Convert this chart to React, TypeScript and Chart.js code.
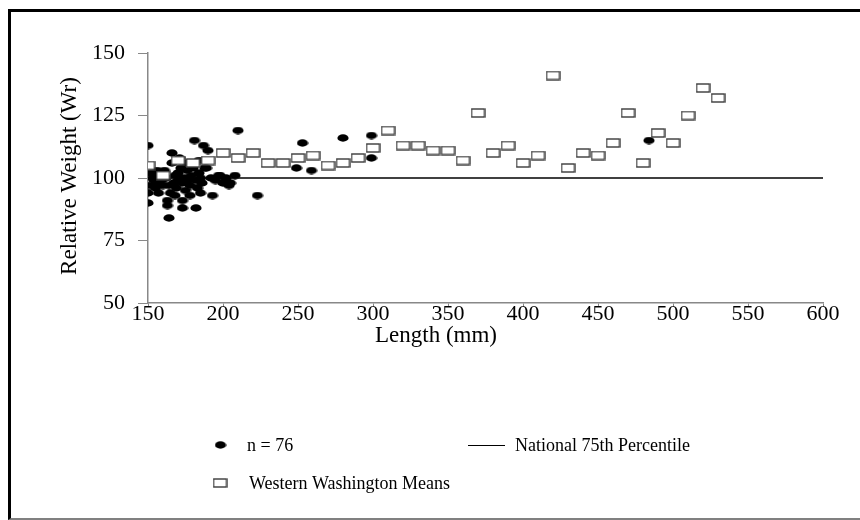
import React, { useEffect, useRef } from "react";
import { Chart, registerables } from "chart.js";
Chart.register(...registerables);

// Individual fish (n = 76): length (mm) and relative weight (Wr)
const sampleLength = [
  150, 150, 150, 151, 152, 153, 155, 156, 157, 158, 159, 160, 161, 162, 163, 163, 164, 165, 166, 166,
  167, 168, 169, 170, 171, 172, 173, 173, 173, 174, 175, 176, 177, 178, 179, 180, 181, 182, 182, 183,
  184, 185, 185, 186, 187, 188, 190, 192, 193, 195, 197, 198, 200, 202, 204, 205, 208, 210, 223, 249,
  253, 259, 280, 299, 299, 484, 154, 156, 160, 164, 168, 170, 176, 178, 184, 189,
];
const sampleWr = [
  113, 94, 90, 97, 102, 100, 96, 98, 94, 101, 99, 97, 103, 100, 91, 89, 84, 94, 106, 110,
  98, 101, 96, 102, 108, 104, 91, 88, 98, 100, 95, 103, 99, 97, 101, 104, 115, 88, 99, 96,
  102, 94, 100, 98, 113, 104, 111, 100, 93, 99, 101, 101, 98, 100, 97, 98, 101, 119, 93, 104,
  114, 103, 116, 117, 108, 115, 99, 103, 100, 97, 93, 99, 106, 93, 107, 104,
];

// Western Washington means
const meanLength = [
  150, 160, 170, 180, 190, 200, 210, 220, 230, 240, 250, 260, 270, 280, 290, 300, 310, 320, 330, 340,
  350, 360, 370, 380, 390, 400, 410, 420, 430, 440, 450, 460, 470, 480, 490, 500, 510, 520, 530,
];
const meanWr = [
  105, 101, 107, 106, 107, 110, 108, 110, 106, 106, 108, 109, 105, 106, 108, 112, 119, 113, 113, 111,
  111, 107, 126, 110, 113, 106, 109, 141, 104, 110, 109, 114, 126, 106, 118, 114, 125, 136, 132,
];

// National 75th percentile standard
const standardLength = [150, 600];
const standardWr = [100, 100];

const xTickMin = 150;
const xTickMax = 600;
const xTickStep = 50;
const yTickMin = 50;
const yTickMax = 150;
const yTickStep = 25;

const labelSample = "n = 76";
const labelStandard = "National 75th Percentile";
const labelMeans = "Western Washington Means";
const xTitle = "Length (mm)";
const yTitle = "Relative Weight (Wr)";

const FONT = "'Liberation Serif', 'Times New Roman', serif";

function makeEllipse(): HTMLCanvasElement {
  const c = document.createElement("canvas");
  c.width = 12;
  c.height = 8;
  const g = c.getContext("2d")!;
  g.fillStyle = "#000";
  g.beginPath();
  g.ellipse(6, 4, 5.6, 3.7, 0, 0, Math.PI * 2);
  g.fill();
  return c;
}

function makeBox(): HTMLCanvasElement {
  const c = document.createElement("canvas");
  c.width = 15;
  c.height = 10;
  const g = c.getContext("2d")!;
  g.fillStyle = "#fff";
  g.fillRect(1, 1, 13, 8);
  g.strokeStyle = "#3a3a3a";
  g.lineWidth = 1.4;
  g.strokeRect(1, 1, 13, 8);
  return c;
}

export default function App() {
  const ref = useRef<HTMLCanvasElement | null>(null);

  useEffect(() => {
    document.body.style.overflow = "hidden";
    const ellipse = makeEllipse();
    const box = makeBox();

    const overlay = {
      id: "overlay",
      afterDraw(chart: any) {
        const ctx = chart.ctx;
        ctx.save();
        ctx.fillStyle = "#000";
        // axis titles
        ctx.font = `23px ${FONT}`;
        ctx.textAlign = "center";
        ctx.textBaseline = "middle";
        ctx.fillText(xTitle, 436, 336);
        ctx.save();
        ctx.translate(70, 176);
        ctx.rotate(-Math.PI / 2);
        ctx.fillText(yTitle, 0, 0);
        ctx.restore();

        // legend
        const ds = chart.data.datasets;
        ctx.font = `18px ${FONT}`;
        ctx.textAlign = "left";
        ctx.drawImage(ellipse, 220.5 - 6, 445 - 4);
        ctx.fillText(ds[1].label, 247, 446);
        ctx.strokeStyle = "#000";
        ctx.lineWidth = 1;
        ctx.beginPath();
        ctx.moveTo(468, 445.5);
        ctx.lineTo(505, 445.5);
        ctx.stroke();
        ctx.fillText(ds[2].label, 515, 446);
        ctx.drawImage(box, 220 - 7.5, 483 - 5);
        ctx.fillText(ds[0].label, 249, 484);
        ctx.restore();
      },
    };

    const chart = new Chart(ref.current!, {
      type: "scatter",
      data: {
        datasets: [
          {
            label: labelMeans,
            data: meanLength.map((x, i) => ({ x, y: meanWr[i] })),
            pointStyle: box as any,
            pointRadius: 6,
            showLine: false,
          },
          {
            label: labelSample,
            data: sampleLength.map((x, i) => ({ x, y: sampleWr[i] })),
            pointStyle: ellipse as any,
            pointRadius: 5,
            showLine: false,
          },
          {
            label: labelStandard,
            data: standardLength.map((x, i) => ({ x, y: standardWr[i] })),
            showLine: true,
            borderColor: "#000",
            borderWidth: 1.6,
            pointRadius: 0,
          },
        ],
      },
      plugins: [overlay],
      options: {
        animation: false,
        responsive: false,
        devicePixelRatio: 1,
        layout: { padding: { left: 0, top: 53, right: 37, bottom: 177 } },
        plugins: { legend: { display: false }, tooltip: { enabled: false } },
        scales: {
          x: {
            type: "linear",
            min: xTickMin,
            max: xTickMax,
            afterFit: (s: any) => {
              s.height = 40;
            },
            ticks: { stepSize: xTickStep, color: "#000", font: { family: FONT, size: 22 }, padding: -6 },
            grid: { drawOnChartArea: false, drawTicks: true, tickLength: 4, color: "#888" },
            border: { color: "#888", width: 1.5 },
          },
          y: {
            min: yTickMin,
            max: yTickMax,
            afterFit: (s: any) => {
              s.width = 148;
            },
            ticks: { stepSize: yTickStep, color: "#000", font: { family: FONT, size: 22 }, padding: 13 },
            grid: { drawOnChartArea: false, drawTicks: true, tickLength: 10, color: "#888" },
            border: { color: "#888", width: 1.5 },
          },
        },
      },
    });
    return () => chart.destroy();
  }, []);

  return (
    <div>
      <div
        style={{
          position: "absolute",
          left: 8,
          top: 9,
          width: 849,
          height: 506,
          borderTop: "3px solid #000",
          borderLeft: "3px solid #000",
          borderBottom: "2px solid #808080",
        }}
      />
      <canvas
        ref={ref}
        width={860}
        height={520}
        style={{ position: "absolute", left: 0, top: 0, width: 860, height: 520 }}
      />
    </div>
  );
}
